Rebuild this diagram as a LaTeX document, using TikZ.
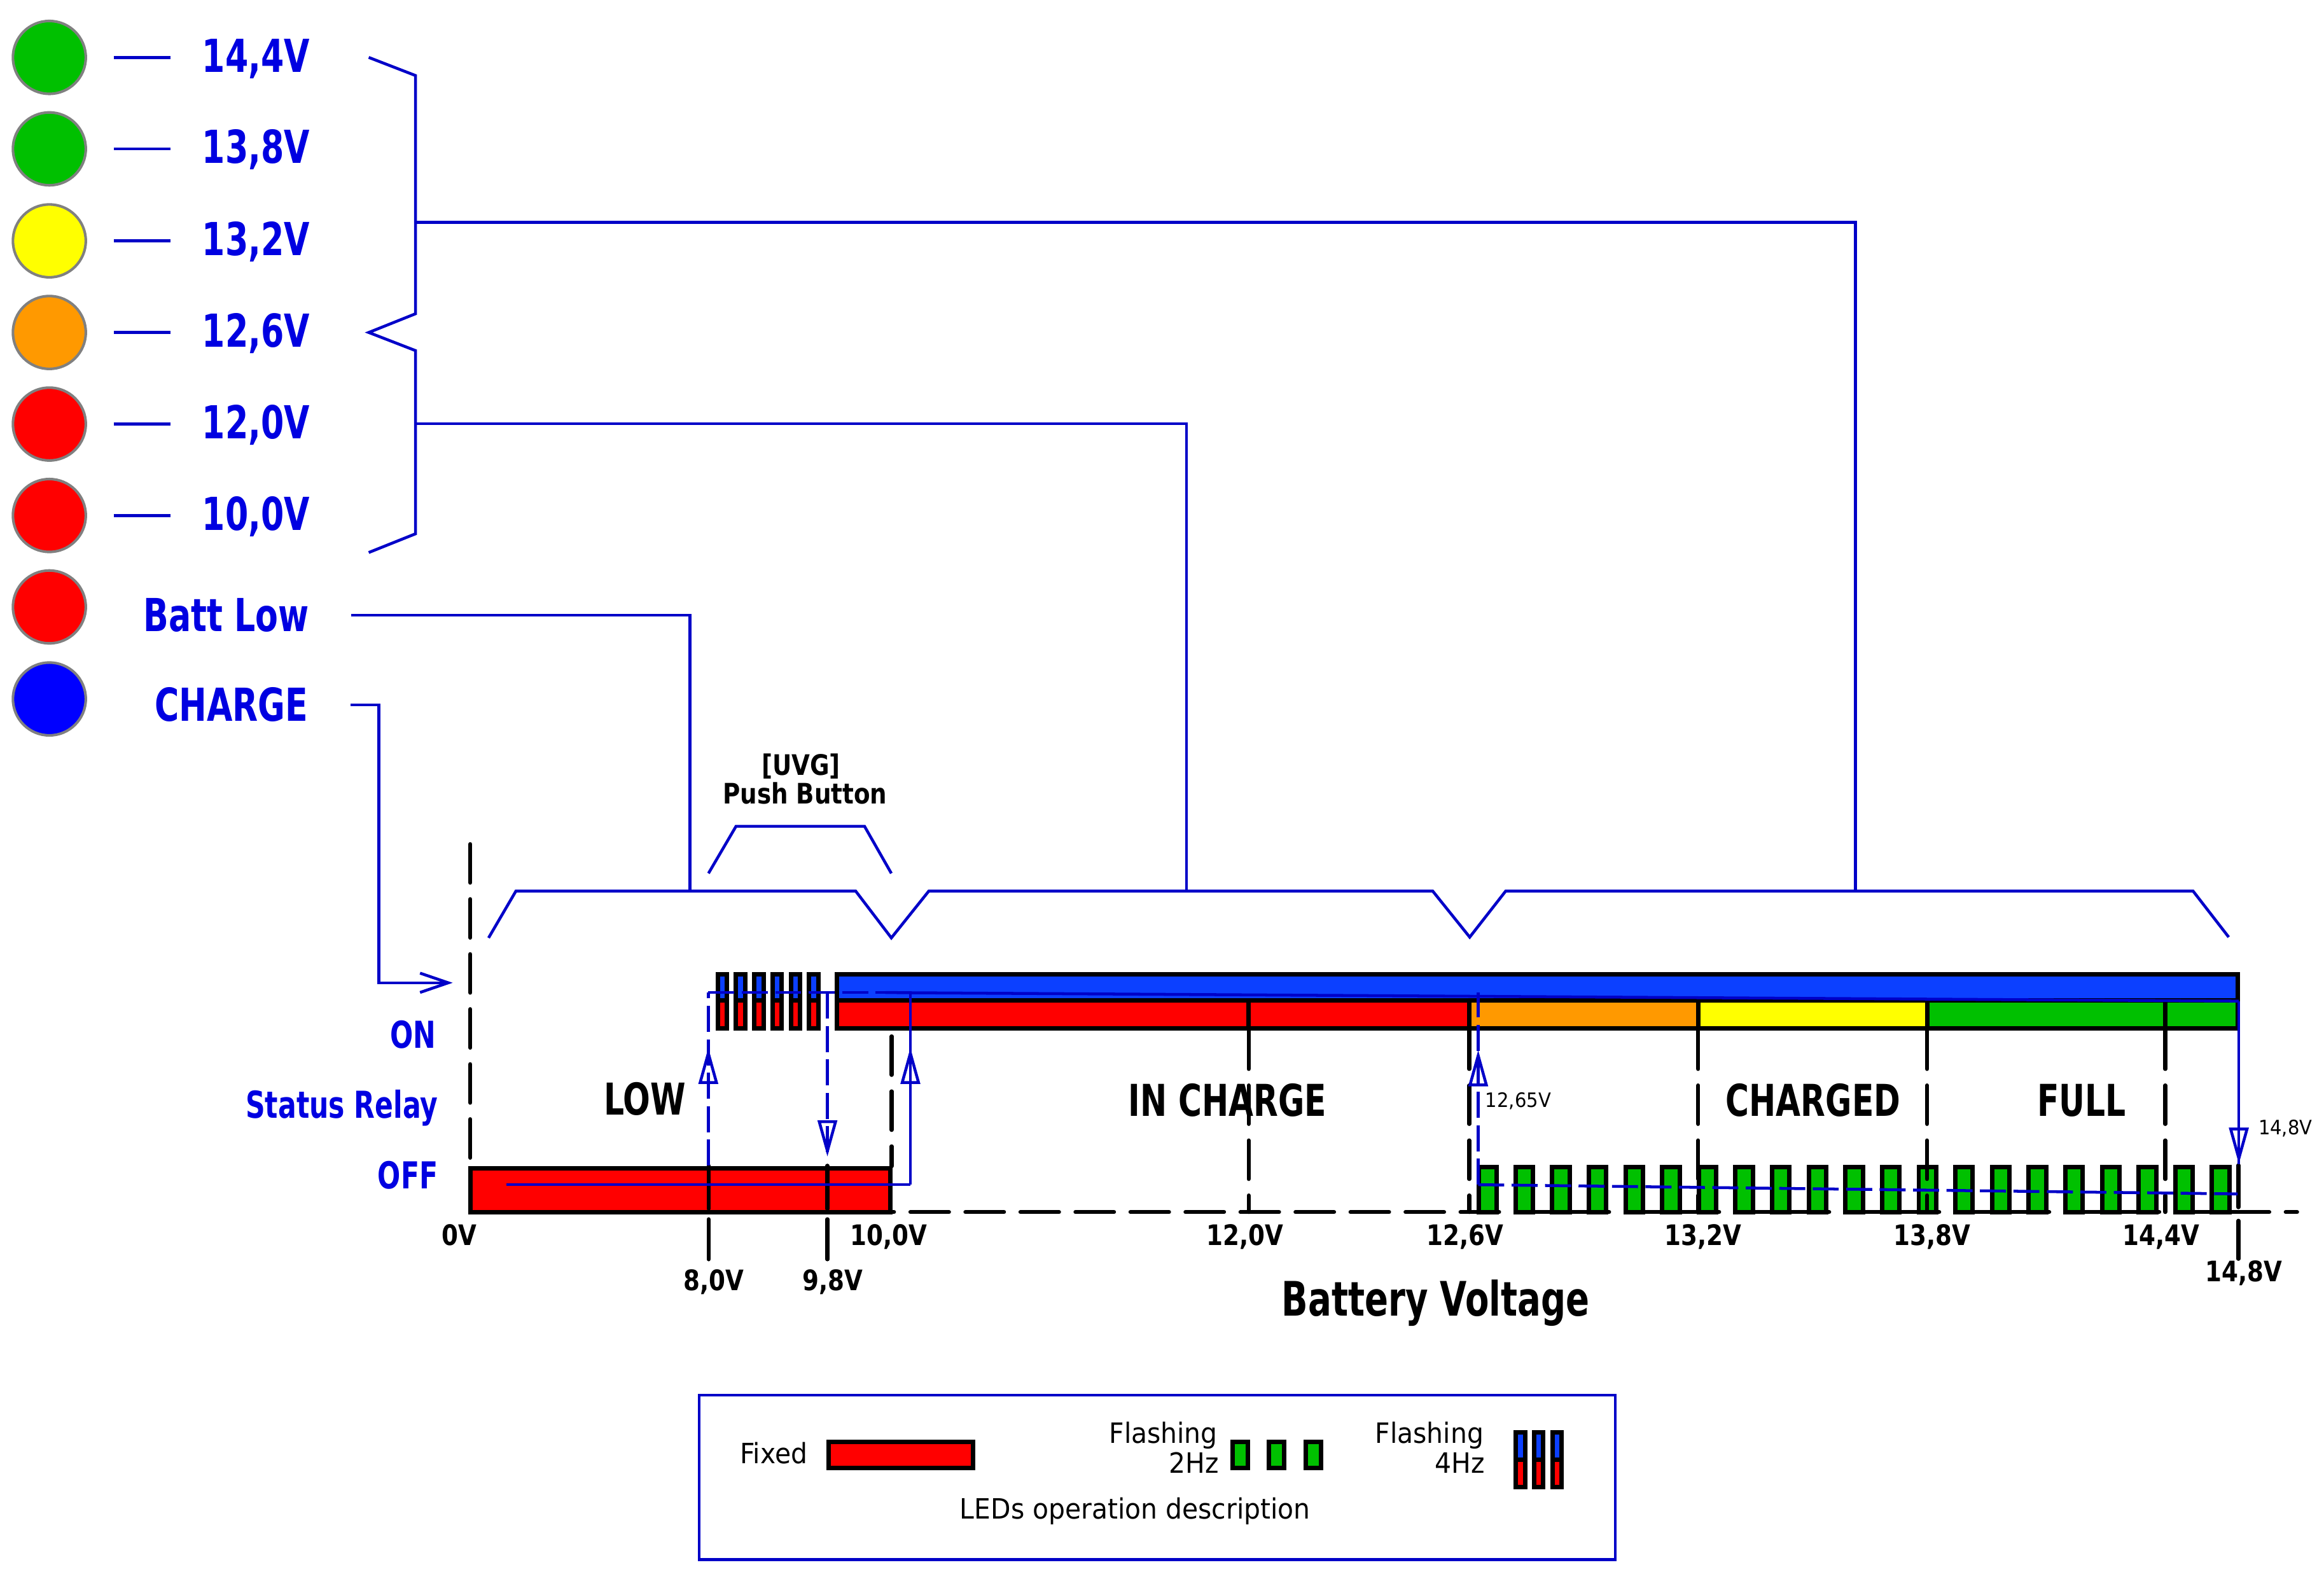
\documentclass[tikz,border=0pt]{standalone}
\usepackage{fontspec}
\newfontfamily\cadfont[FakeStretch=0.73]{DejaVu Sans}
\newfontfamily\axisfont[FakeStretch=0.84]{DejaVu Sans}
\newfontfamily\notefont[FakeStretch=0.93]{DejaVu Sans}
\usepackage{tikz}
\usetikzlibrary{arrows.meta, decorations.markings}
\definecolor{lineblue}{RGB}{0, 0, 200}
\definecolor{textblue}{RGB}{0, 0, 225}
\definecolor{barblue}{RGB}{12, 64, 255}
\definecolor{ledgreen}{RGB}{0, 192, 0}
\definecolor{ledyellow}{RGB}{255, 255, 0}
\definecolor{ledorange}{RGB}{255, 153, 0}
\definecolor{ledred}{RGB}{255, 0, 0}
\definecolor{ledblue}{RGB}{0, 0, 255}
\definecolor{ledrim}{RGB}{128, 128, 128}

\begin{document}
\begin{tikzpicture}[
    ledlamp/.style={circle, draw=ledrim, line width=0.5pt, minimum size=4.9mm, inner sep=0pt},
    ledtext/.style={anchor=base east, inner sep=0pt, text=textblue, font=\fontsize{8.7pt}{9pt}\cadfont\bfseries},
    relaytext/.style={anchor=base east, inner sep=0pt, text=textblue, font=\fontsize{7.1pt}{8pt}\cadfont\bfseries},
    zonetext/.style={anchor=base, inner sep=0pt, font=\fontsize{8.4pt}{9pt}\cadfont\bfseries},
    volttext/.style={anchor=base, inner sep=0pt, font=\fontsize{5.4pt}{6pt}\axisfont\bfseries},
    notetext/.style={inner sep=0pt, font=\fontsize{5.35pt}{6pt}\notefont},
    tinytext/.style={anchor=base west, inner sep=0pt, font=\fontsize{3.8pt}{4pt}\notefont},
    blueline/.style={draw=lineblue, line width=0.55pt},
    bluedash/.style={blueline, dash pattern=on 1.75mm off 0.5mm},
    voltline/.style={line width=0.75pt, line cap=round},
    voltdash/.style={voltline, dash pattern=on 2.6mm off 1.1mm},
    barbox/.style={draw=black, line width=0.85pt},
    relaytip/.style={postaction={decorate}, decoration={markings, mark=at position #1 with {\pgfsetdash{}{0pt}\arrow{Triangle[open, length=2.45mm, width=1.3mm]}}}}
  ]
  \useasboundingbox (0,0) rectangle (15.631,-10.616);

  % LED column
  \foreach \name/\col/\yy in {l144/ledgreen/0.386, l138/ledgreen/1.001, l132/ledyellow/1.620, l126/ledorange/2.236, l120/ledred/2.852, l100/ledred/3.467, lbatt/ledred/4.082, lchg/ledblue/4.701}
    \node[ledlamp, fill=\col] (\name) at (0.332,-\yy) {};

  % Threshold labels
  \foreach \name/\txt in {l144/{14,4V}, l138/{13,8V}, l132/{13,2V}, l126/{12,6V}, l120/{12,0V}, l100/{10,0V}} {
    \draw[blueline] ([xshift=1.8mm]\name.east) -- ++(0.38,0);
    \node[ledtext] (t\name) at ([xshift=17.58mm, yshift=-0.98mm]\name.center) {\txt};
  }
  \node[ledtext] (tbatt) at (2.085,-4.246) {Batt Low};
  \node[ledtext] (tchg) at (2.078,-4.852) {CHARGE};

  % Brace and links to the zones
  \draw[blueline] (2.48,-0.386) -- (2.795,-0.508) -- (2.795,-2.11) -- (2.48,-2.236) -- (2.795,-2.358) -- (2.795,-3.59) -- (2.48,-3.716);
  \coordinate (braceup) at (2.795,-1.496);
  \coordinate (bracelow) at (2.795,-2.85);
  \coordinate (zfull) at (12.48,-5.993);
  \coordinate (zcharge) at (7.98,-5.993);
  \coordinate (zlow) at (4.64,-5.993);
  \coordinate (relayon) at (3.045,-6.61);
  \draw[blueline] (braceup) -| (zfull);
  \draw[blueline] (bracelow) -| (zcharge);
  \draw[blueline] ([xshift=2.75mm]tbatt.east) -| (zlow);
  \draw[blueline, -{Straight Barb[length=1.9mm, width=1.3mm]}] ([xshift=2.8mm]tchg.east) -- ++(0.19,0) |- (relayon);

  % Zone bracket
  \draw[blueline] (3.286,-6.308) -- (3.47,-5.993) -- (5.755,-5.993) -- (5.995,-6.308) -- (6.247,-5.993) -- (9.636,-5.993) -- (9.885,-6.303) -- (10.127,-5.993) -- (14.75,-5.993) -- (14.99,-6.303);

  % Push button
  \draw[blueline] (4.765,-5.874) -- (4.95,-5.558) -- (5.815,-5.558) -- (5.995,-5.874);
  \node[volttext] (uvg) at (5.387,-5.213) {[UVG]};
  \node[volttext] (push) at (5.414,-5.406) {Push Button};

  % ON bars
  \draw[barbox, fill=barblue] (5.628,-6.553) rectangle (15.052,-6.73);
  \draw[barbox, fill=ledred] (5.628,-6.73) rectangle (9.882,-6.917);
  \draw[barbox, fill=ledorange] (9.882,-6.73) rectangle (11.422,-6.917);
  \draw[barbox, fill=ledyellow] (11.422,-6.73) rectangle (12.961,-6.917);
  \draw[barbox, fill=ledgreen] (12.961,-6.73) rectangle (15.052,-6.917);
  \draw[barbox] (8.398,-6.73) -- (8.398,-6.917);
  \draw[barbox] (14.563,-6.73) -- (14.563,-6.917);
  \foreach \k in {0,...,5} {
    \draw[barbox, fill=barblue] ({4.827+0.123*\k},-6.553) rectangle ++(0.0625,-0.177);
    \draw[barbox, fill=ledred] ({4.827+0.123*\k},-6.73) rectangle ++(0.0625,-0.187);
  }

  % OFF bars
  \draw[barbox, fill=ledred] (3.163,-7.857) rectangle (5.99,-8.152);
  \foreach \k in {0,...,20}
    \draw[barbox, fill=ledgreen] ({9.947+0.2465*\k},-7.85) rectangle ++(0.117,-0.302);

  % Voltage marks
  \draw[voltdash] (3.163,-5.677) -- (3.163,-8.152);
  \draw[voltdash] (5.997,-6.97) -- (5.997,-7.844);
  \foreach \xx in {8.398, 9.882, 11.422, 12.961, 14.563}
    \draw[voltdash] (\xx,-6.93) -- (\xx,-8.152);
  \foreach \xx in {4.766, 5.565} {
    \draw[voltline] (\xx,-7.84) -- (\xx,-8.13);
    \draw[voltline] (\xx,-8.20) -- (\xx,-8.47);
  }
  \draw[voltline] (15.055,-7.837) -- (15.055,-8.12);
  \draw[voltline] (15.055,-8.21) -- (15.055,-8.467);
  \draw[voltdash] (3.163,-8.152) -- (15.45,-8.152);

  % Relay state
  \coordinate (off0) at (3.407,-7.968);
  \coordinate (up10) at (6.123,-7.968);
  \coordinate (on10) at (6.123,-6.677);
  \coordinate (up8) at (4.764,-7.84);
  \coordinate (on8) at (4.764,-6.675);
  \coordinate (on98) at (5.565,-6.675);
  \coordinate (dn98) at (5.565,-7.78);
  \coordinate (onjoin) at (5.955,-6.675);
  \coordinate (onend) at (15.058,-6.733);
  \coordinate (dn148) at (15.058,-7.83);
  \coordinate (up1265) at (9.942,-7.968);
  \coordinate (on1265) at (9.942,-6.674);
  \coordinate (offend) at (15.05,-8.03);
  \draw[blueline] (off0) -- (up10);
  \draw[blueline, relaytip=0.922cm] (up10) -- (on10);
  \draw[bluedash, relaytip=0.794cm] (up8) -- (on8);
  \draw[bluedash] (on8) -- (onjoin);
  \draw[blueline] (onjoin) -- (on10) -- (onend);
  \draw[bluedash, relaytip=1.104cm] (on98) -- (dn98);
  \draw[blueline, relaytip=1.096cm] (onend) -- (dn148);
  \draw[bluedash, relaytip=0.906cm] (up1265) -- (on1265);
  \draw[bluedash] (up1265) -- (offend);
  \node[tinytext] (v1265) at (9.984,-7.447) {12,65V};
  \node[tinytext] (v148) at (15.183,-7.633) {14,8V};

  % Relay labels
  \node[relaytext] (ron) at (2.938,-7.049) {ON};
  \node[relaytext] (rstatus) at (2.952,-7.522) {Status Relay};
  \node[relaytext] (roff) at (2.952,-7.997) {OFF};

  % Zones
  \node[zonetext] (zonelow) at (4.338,-7.50) {LOW};
  \node[zonetext] (zonein) at (8.255,-7.506) {IN CHARGE};
  \node[zonetext] (zonecharged) at (12.195,-7.506) {CHARGED};
  \node[zonetext] (zonefull) at (14.0,-7.506) {FULL};

  % Axis labels
  \node[volttext] (a0) at (3.09,-8.375) {0V};
  \node[volttext] (a100) at (5.976,-8.375) {10,0V};
  \node[volttext] (a120) at (8.375,-8.375) {12,0V};
  \node[volttext] (a126) at (9.855,-8.375) {12,6V};
  \node[volttext] (a132) at (11.456,-8.375) {13,2V};
  \node[volttext] (a138) at (12.996,-8.375) {13,8V};
  \node[volttext] (a144) at (14.536,-8.375) {14,4V};
  \node[volttext] (a80) at (4.80,-8.68) {8,0V};
  \node[volttext] (a98) at (5.60,-8.68) {9,8V};
  \node[volttext] (a148) at (15.09,-8.62) {14,8V};
  \node[zonetext, font=\fontsize{9.1pt}{10pt}\cadfont\bfseries] (axistitle) at (9.656,-8.852) {Battery Voltage};

  % Legend
  \node[draw=lineblue, line width=0.55pt, minimum width=6.162cm, minimum height=1.106cm, inner sep=0pt] (legend) at (7.784,-9.937) {};
  \node[notetext, anchor=base west] (fixed) at (4.97,-9.842) {Fixed};
  \draw[barbox, fill=ledred] (5.573,-9.698) rectangle (6.545,-9.874);
  \node[notetext, anchor=base east] (flash2) at (8.196,-9.706) {Flashing};
  \node[notetext, anchor=base east] (hz2) at (8.204,-9.906) {2Hz};
  \foreach \xx in {8.291, 8.533, 8.781}
    \draw[barbox, fill=ledgreen] (\xx,-9.698) rectangle ++(0.104,-0.176);
  \node[notetext, anchor=base east] (flash4) at (9.985,-9.706) {Flashing};
  \node[notetext, anchor=base east] (hz4) at (9.994,-9.906) {4Hz};
  \foreach \k in {0,1,2} {
    \draw[barbox, fill=barblue] ({10.195+0.123*\k},-9.633) rectangle ++(0.062,-0.183);
    \draw[barbox, fill=ledred] ({10.195+0.123*\k},-9.816) rectangle ++(0.062,-0.184);
  }
  \node[notetext, anchor=base] (legendtitle) at (7.635,-10.215) {LEDs operation description};
\end{tikzpicture}
\end{document}
